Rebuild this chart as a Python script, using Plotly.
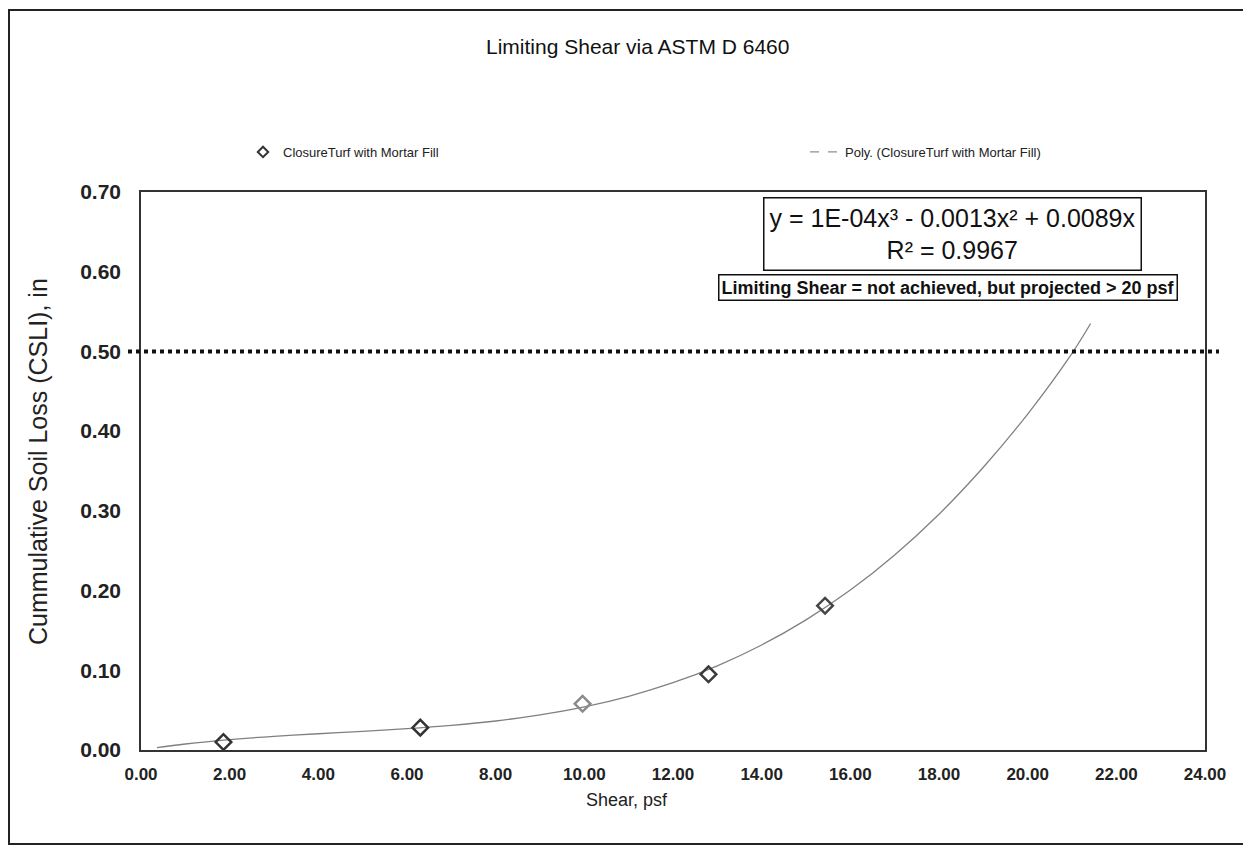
import plotly.graph_objects as go

# ---- data ----
shear = [1.86, 6.30, 9.96, 12.80, 15.43]
soil_loss = [0.010, 0.028, 0.058, 0.095, 0.181]
marker_colors = ["#333333", "#333333", "#8a8a8a", "#3a3a3a", "#444444"]

trend_x = [0.36, 1, 2, 3, 4, 5, 6, 7, 8, 9, 10, 11, 12, 13, 14, 15, 16, 17, 18, 19, 20, 21, 21.42]
trend_y = [0.003, 0.0075, 0.013, 0.0172, 0.0204, 0.0234, 0.0267, 0.0309, 0.0364, 0.044, 0.0541,
           0.0674, 0.0844, 0.1056, 0.1317, 0.1632, 0.2006, 0.2447, 0.2958, 0.3547, 0.4214, 0.4976, 0.535]

limit_y = 0.50
x_ticks = [0, 2, 4, 6, 8, 10, 12, 14, 16, 18, 20, 22, 24]
y_ticks = [0, 0.1, 0.2, 0.3, 0.4, 0.5, 0.6, 0.7]

W, H = 1251, 850
L, R, T, B = 133, 1197, 184, 742  # plot area in pixels


def px(xp):
    return (xp - L) / (R - L)


def py(yp):
    return (B - yp) / (B - T)


FONT = "Liberation Sans, Arial, sans-serif"
NARROW = "Liberation Sans Narrow, Arial Narrow, Liberation Sans, Arial, sans-serif"

fig = go.Figure()
fig.add_trace(go.Scatter(
    x=trend_x, y=trend_y, mode="lines", line_shape="spline", showlegend=False,
    line=dict(color="#808080", width=1.3),
))
fig.add_trace(go.Scatter(
    x=shear, y=soil_loss, mode="markers", showlegend=False,
    marker=dict(symbol="diamond-open", size=12, color=marker_colors,
                line=dict(width=2.5, color=marker_colors)),
))
# legend entries
fig.add_trace(go.Scatter(
    x=[None], y=[None], mode="markers", name="ClosureTurf with Mortar Fill", legend="legend",
    marker=dict(symbol="diamond-open", size=8, color="#333333", line=dict(width=2, color="#333333")),
))
fig.add_trace(go.Scatter(
    x=[None], y=[None], mode="lines", name="Poly. (ClosureTurf with Mortar Fill)", legend="legend2",
    line=dict(color="#909090", width=1.3, dash="dash"),
))

shapes = [
    # limiting line at 0.50
    dict(type="line", xref="paper", yref="y", x0=px(120), x1=px(1211), y0=limit_y, y1=limit_y,
         line=dict(color="#111111", width=4, dash="dot")),
    # outer chart border
    dict(type="rect", xref="paper", yref="paper", x0=px(1), x1=px(1238), y0=py(2), y1=py(836),
         line=dict(color="#222222", width=2), fillcolor="rgba(0,0,0,0)", layer="below"),
]

annotations = [
    dict(text="Limiting Shear via ASTM D 6460", xref="paper", yref="paper", x=px(629), y=py(39),
         showarrow=False, font=dict(family=FONT, size=21, color="#111111"), xanchor="center", yanchor="middle"),
    dict(text="y = 1E-04x³ - 0.0013x² + 0.0089x<br>R² = 0.9967", xref="paper", yref="paper",
         x=px(944), y=py(226), showarrow=False, align="center",
         font=dict(family=FONT, size=25, color="#111111"), bordercolor="#111111", borderwidth=1.5,
         borderpad=5, bgcolor="white", xanchor="center", yanchor="middle"),
    dict(text="<b>Limiting Shear = not achieved, but projected > 20 psf</b>", xref="paper", yref="paper",
         x=px(940), y=py(279), showarrow=False,
         font=dict(family=FONT, size=18, color="#111111"), bordercolor="#111111", borderwidth=1.5,
         borderpad=2, bgcolor="white", xanchor="center", yanchor="middle"),
    dict(text="Shear, psf", xref="paper", yref="paper", x=px(619), y=py(792), showarrow=False,
         font=dict(family=FONT, size=18, color="#222222"), xanchor="center", yanchor="middle"),
    dict(text="Cummulative Soil Loss (CSLI), in", xref="paper", yref="paper", x=px(30), y=py(454),
         showarrow=False, textangle=-90,
         font=dict(family=FONT, size=25, color="#222222"), xanchor="center", yanchor="middle"),
]

leg_font = dict(family=NARROW, size=13, color="#222222")
fig.update_layout(
    width=W, height=H,
    margin=dict(l=L, r=W - R, t=T, b=H - B),
    paper_bgcolor="white", plot_bgcolor="white",
    showlegend=True,
    legend=dict(orientation="h", x=px(235), y=py(144), xanchor="left", yanchor="middle",
                font=leg_font, bgcolor="rgba(0,0,0,0)"),
    legend2=dict(orientation="h", x=px(797), y=py(144), xanchor="left", yanchor="middle",
                 font=leg_font, bgcolor="rgba(0,0,0,0)"),
    shapes=shapes, annotations=annotations,
    xaxis=dict(range=[0, 24], tickvals=x_ticks, ticktext=[f"{v:.2f}" for v in x_ticks],
               showgrid=False, zeroline=False, showline=True, linecolor="#333333", linewidth=1.5,
               mirror=True, ticks="", ticklabelstandoff=8,
               tickfont=dict(family=FONT, size=17, color="#222222", weight="bold")),
    yaxis=dict(range=[0, 0.7], tickvals=y_ticks, ticktext=[f"{v:.2f}" for v in y_ticks],
               showgrid=False, zeroline=False, showline=True, linecolor="#333333", linewidth=1.5,
               mirror=True, ticks="", ticklabelstandoff=14,
               tickfont=dict(family=FONT, size=21, color="#222222", weight="bold")),
)

fig.write_html("out.html")
